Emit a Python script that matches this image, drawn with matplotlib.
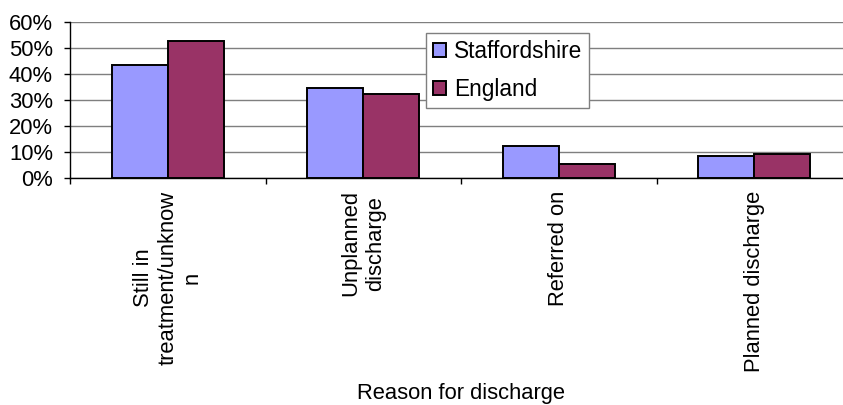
import numpy as np
import matplotlib

matplotlib.use("Agg")
import matplotlib.pyplot as plt
from matplotlib.ticker import PercentFormatter

plt.rcParams["font.family"] = ["Liberation Sans", "DejaVu Sans"]

categories = [
    "Still in\ntreatment/unknow\nn",
    "Unplanned\ndischarge",
    "Referred on",
    "Planned discharge",
]
staffordshire = [43.5, 34.5, 12.3, 8.5]
england = [52.7, 32.2, 5.4, 9.1]
series_names = ["Staffordshire", "England"]

STAFFS_COLOR = "#9999FF"
ENGLAND_COLOR = "#993366"
GRID_COLOR = "#7f7f7f"
FS = 15.8

fig = plt.figure(figsize=(8.43, 4.05), dpi=100)
W, H = 843, 405
left, right, top, bottom = 70, 852, 22, 178
ax = fig.add_axes([left / W, 1 - bottom / H, (right - left) / W, (bottom - top) / H])

x = np.arange(len(categories))
bw = 0.286
ax.bar(x - bw / 2, staffordshire, width=bw, color=STAFFS_COLOR,
       edgecolor="black", linewidth=1.4, label=series_names[0], zorder=3)
ax.bar(x + bw / 2, england, width=bw, color=ENGLAND_COLOR,
       edgecolor="black", linewidth=1.4, label=series_names[1], zorder=3)

ax.set_xlim(-0.5, len(categories) - 0.5)
ax.set_ylim(0, 60)
ax.set_yticks(np.arange(0, 61, 10))
ax.yaxis.set_major_formatter(PercentFormatter(decimals=0))
ax.yaxis.grid(True, color=GRID_COLOR, linewidth=1.0, zorder=0)
ax.set_axisbelow(True)

for side in ("top", "right"):
    ax.spines[side].set_visible(False)
for side in ("left", "bottom"):
    ax.spines[side].set_color("black")
    ax.spines[side].set_linewidth(1.0)

# category names centred under each group, tick marks on the boundaries
ax.set_xticks(x)
ax.set_xticklabels(categories, rotation=90, fontsize=FS)
for lbl in ax.get_xticklabels():
    lbl.set_multialignment("center")
ax.tick_params(axis="x", which="major", length=0, pad=9)
ax.set_xticks(np.arange(-0.5, len(categories), 1.0), minor=True)
ax.tick_params(axis="x", which="minor", length=4.3, width=1.0, direction="out")
ax.tick_params(axis="y", length=4.3, width=1.0, labelsize=FS, pad=8)

ax.set_xlabel("Reason for discharge", fontsize=FS, va="baseline")
ax.xaxis.set_label_coords(0.5, -(399 - bottom) / (bottom - top))

leg = ax.legend(
    loc="upper left",
    bbox_to_anchor=(426 / W, 1 - 33 / H),
    bbox_transform=fig.transFigure,
    fontsize=16.3,
    frameon=True,
    fancybox=False,
    framealpha=1,
    edgecolor="#7f7f7f",
    handlelength=0.6,
    handleheight=0.6,
    handletextpad=0.35,
    labelspacing=0.66,
    borderpad=0.3,
    borderaxespad=0,
)
leg.get_frame().set_linewidth(1.0)

fig.savefig("out.png", dpi=100, facecolor="white")
